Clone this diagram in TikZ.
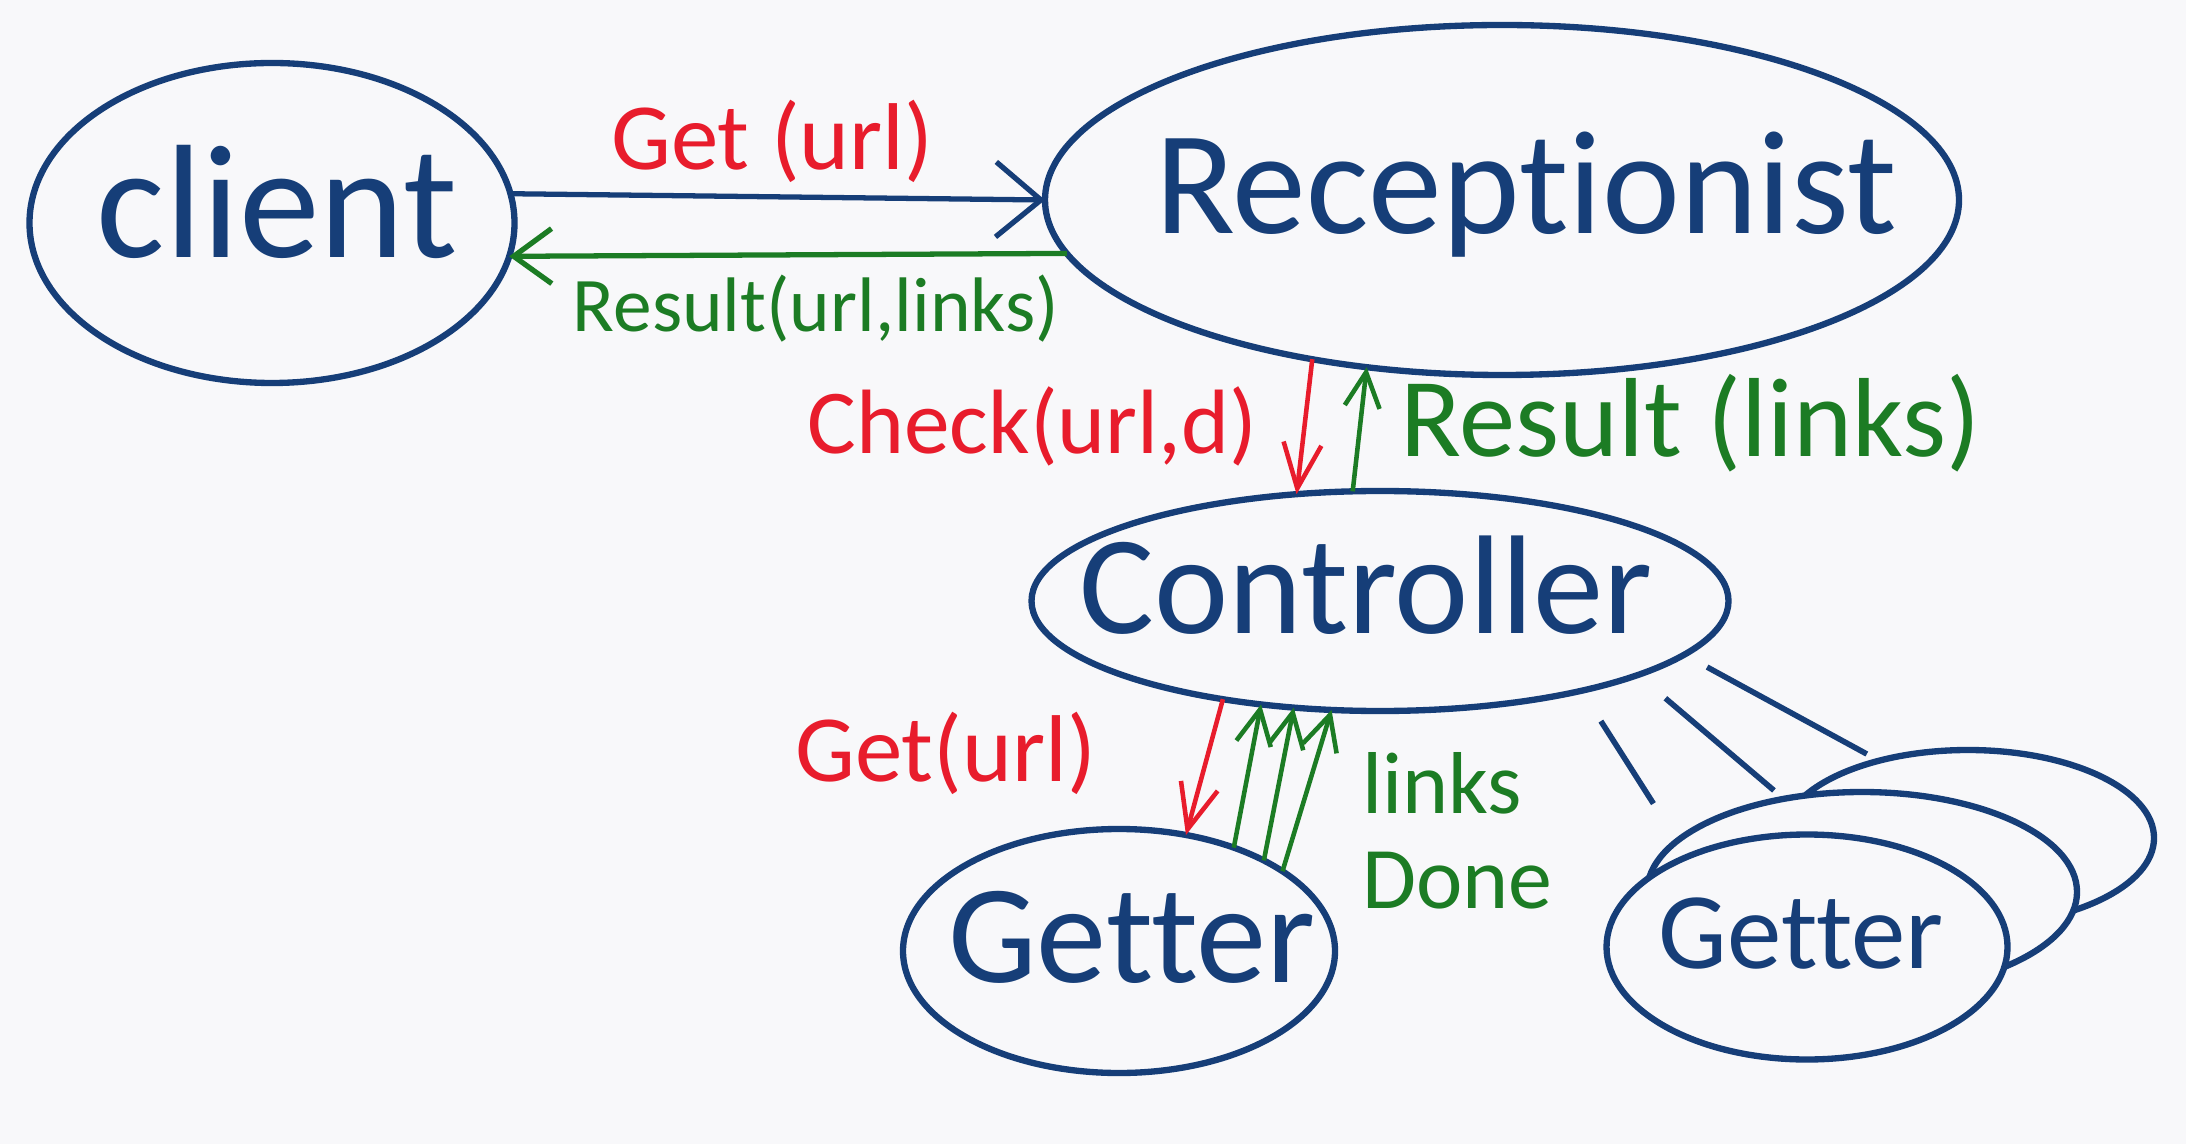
\documentclass[tikz,border=0pt]{standalone}
\usepackage{fontspec}
\setmainfont{Carlito}[Ligatures={NoCommon,NoRequired,NoContextual}]
\usetikzlibrary{positioning,shapes.geometric,arrows.meta}

\definecolor{inkblue}{RGB}{22,62,120}
\definecolor{inkred}{RGB}{232,28,44}
\definecolor{inkgreen}{RGB}{28,124,36}
\definecolor{paper}{RGB}{248,248,250}

\begin{document}
\begin{tikzpicture}[
    actor/.style={ellipse, draw=inkblue, line width=1.8pt, fill=paper, inner sep=0pt, outer sep=0pt},
    actorname/.style={text=inkblue, inner sep=0pt},
    redtext/.style={text=inkred, inner sep=0pt},
    greentext/.style={text=inkgreen, inner sep=0pt},
    sendline/.style={-{Straight Barb[length=4.5mm,width=7.5mm]}, line width=1.5pt, draw=inkblue},
    backline/.style={-{Straight Barb[length=3.8mm,width=5.5mm]}, line width=1.5pt, draw=inkgreen},
    callto/.style={-{Straight Barb[length=4.5mm,width=3.8mm]}, line width=1.3pt, draw=inkred},
    reply/.style={-{Straight Barb[length=3.5mm,width=3.5mm]}, line width=1.3pt, draw=inkgreen},
    spawn/.style={line width=1.6pt, draw=inkblue}
]
    \path[use as bounding box, fill=paper] (0,0) rectangle (21.86,-11.44);

    \node[actor, minimum width=4.85cm, minimum height=3.2cm] (client) at (2.72,-2.23) {};
    \node[actor, minimum width=9.14cm, minimum height=3.5cm] (recep) at (15.02,-2.00) {};
    \node[actor, minimum width=6.97cm, minimum height=2.2cm] (ctrl) at (13.80,-6.01) {};
    \node[actor, minimum width=4.32cm, minimum height=2.44cm] (getter) at (11.19,-9.51) {};
    % stack of getters, back to front
    \node[actor, minimum width=3.72cm, minimum height=1.76cm] (getterc) at (19.68,-8.38) {};
    \node[actor, minimum width=4.30cm, minimum height=2.0cm] (getterb) at (18.62,-8.92) {};
    \node[actor, minimum width=4.01cm, minimum height=2.25cm] (gettera) at (18.07,-9.47) {};

    \node[actorname, font=\fontsize{46}{46}\selectfont] (clientname) at (2.77,-2.02) {client};
    \node[actorname, font=\fontsize{42}{42}\selectfont] (recepname) at (15.26,-1.95) {Receptionist};
    \node[actorname, font=\fontsize{40}{40}\selectfont] (ctrlname) at (13.66,-5.85) {Controller};
    \node[actorname, font=\fontsize{40}{40}\selectfont] (gettername) at (11.32,-9.37) {Getter};
    \node[actorname, font=\fontsize{31}{31}\selectfont] (getteraname) at (18.01,-9.34) {Getter};

    \draw[sendline] (client.7) -- node[pos=.49, yshift=5.5mm, redtext, font=\fontsize{27}{27}\selectfont] (getlbl) {Get (url)} (recep.180);
    \draw[backline] (recep.187) -- node[pos=.45, yshift=-5.4mm, greentext, font=\fontsize{22}{22}\selectfont] (resultlbl) {Result(url,links)} (client.-8);

    \draw[callto] (recep.220) -- node[pos=.5, left=4.5mm, redtext, font=\fontsize{26}{26}\selectfont] (checklbl) {Check(url,d)} (ctrl.128);
    \draw[reply] (ctrl.104) -- node[pos=.55, right=3.8mm, greentext, font=\fontsize{32}{32}\selectfont] (linkslbl) {Result (links)} (recep.231);

    \draw[callto] (ctrl.212) -- node[pos=.4, left=11mm, redtext, font=\fontsize{27}{27}\selectfont] (fetchlbl) {Get(url)} (getter.60);
    \draw[reply] (getter.42) -- (ctrl.221);
    \draw[reply] (getter.32) -- (ctrl.231);
    \draw[reply] (getter.26) -- node[pos=.25, right=6.5mm, greentext, align=left, font=\fontsize{25}{27}\selectfont] (donelbl) {links\\Done} (ctrl.246);

    \draw[spawn, shorten <=3.6mm, shorten >=6.3mm] (ctrl.-24) -- (gettera.143);
    \draw[spawn, shorten <=3.6mm, shorten >=1.3mm] (ctrl.-16) -- (getterb.130);
    \draw[spawn, shorten <=2.6mm, shorten >=1.4mm] (ctrl.-10) -- (getterc.139);
\end{tikzpicture}
\end{document}
